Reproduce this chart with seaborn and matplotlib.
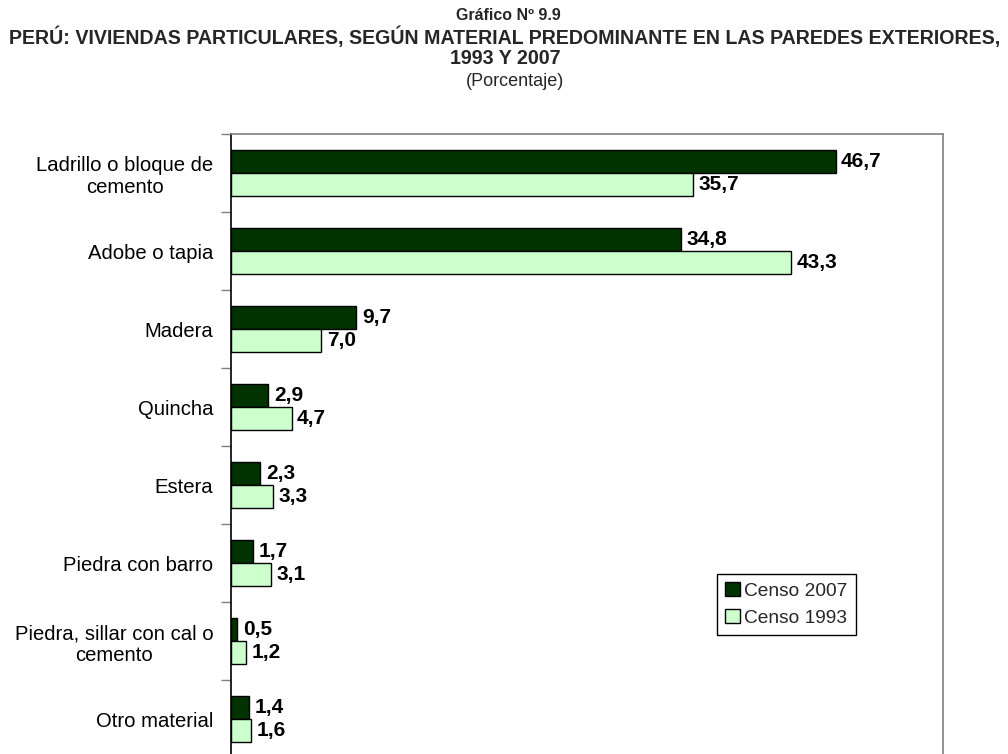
import numpy as np
import pandas as pd
import matplotlib
matplotlib.use("Agg")
import matplotlib.pyplot as plt
import seaborn as sns
from matplotlib.ticker import FixedLocator

categories = ["Ladrillo o bloque de\ncemento", "Adobe o tapia", "Madera", "Quincha",
              "Estera", "Piedra con barro", "Piedra, sillar con cal o\ncemento", "Otro material"]
censo_2007 = [46.7, 34.8, 9.7, 2.9, 2.3, 1.7, 0.5, 1.4]
censo_1993 = [35.7, 43.3, 7.0, 4.7, 3.3, 3.1, 1.2, 1.6]
series_names = ["Censo 2007", "Censo 1993"]

sns.set_theme(style="white")
plt.rcParams['font.family'] = ['Liberation Sans', 'DejaVu Sans']

df = pd.DataFrame({
    "Material": categories * 2,
    "Valor": censo_2007 + censo_1993,
    "Serie": [series_names[0]] * len(categories) + [series_names[1]] * len(categories),
})

fig = plt.figure(figsize=(10.08, 7.54), dpi=100)
ax = fig.add_axes([230.7 / 1008, 1 - 758 / 754, 712.3 / 1008, 624 / 754])

sns.barplot(data=df, y="Material", x="Valor", hue="Serie", orient="h",
            palette=["#003300", "#CCFFCC"], saturation=1, width=0.58,
            edgecolor="black", linewidth=1.0, ax=ax, order=categories,
            hue_order=series_names)

for cont in ax.containers:
    vals = [b.get_width() for b in cont]
    ax.bar_label(cont, labels=[f"{v:.1f}".replace(".", ",") for v in vals],
                 padding=4, fontsize=15, fontweight="bold", color="black")

ax.set_xlim(0, 55)
ax.set_ylim(len(categories) - 0.5, -0.5)
ax.set_xlabel("")
ax.set_ylabel("")
ax.set_xticks([])
ax.yaxis.set_minor_locator(FixedLocator(np.arange(-0.5, len(categories), 1.0)))
ax.tick_params(axis="y", which="major", length=0, labelsize=14.6, pad=12.5, colors="black")
ax.tick_params(axis="y", which="minor", length=7, width=1, color="#808080", left=True)
for lab in ax.get_yticklabels():
    lab.set_multialignment("center")

for s in ["top", "right", "bottom"]:
    ax.spines[s].set_color("#808080")
    ax.spines[s].set_linewidth(1.2)
ax.spines["left"].set_color("black")
ax.spines["left"].set_linewidth(1.2)

leg = ax.legend(loc="upper left", bbox_to_anchor=(0.683, 0.295), borderaxespad=0,
                fontsize=13.8, frameon=True, fancybox=False, framealpha=1,
                edgecolor="black", handlelength=0.75, handleheight=0.75,
                handletextpad=0.25, borderpad=0.42, labelspacing=0.5)
leg.get_frame().set_linewidth(1.0)

fig.text(0.504, 1 - 15 / 754, "Gráfico Nº 9.9", ha="center", va="center",
         fontsize=11.5, fontweight="bold")
fig.text(0.501, 1 - 37 / 754,
         "PERÚ: VIVIENDAS PARTICULARES, SEGÚN MATERIAL PREDOMINANTE EN LAS PAREDES EXTERIORES,",
         ha="center", va="center", fontsize=14.1, fontweight="bold")
fig.text(0.501, 1 - 58 / 754, "1993 Y 2007", ha="center", va="center",
         fontsize=14.1, fontweight="bold")
fig.text(0.511, 1 - 82 / 754, "(Porcentaje)", ha="center", va="center", fontsize=13)

fig.savefig("out.png", dpi=100)
